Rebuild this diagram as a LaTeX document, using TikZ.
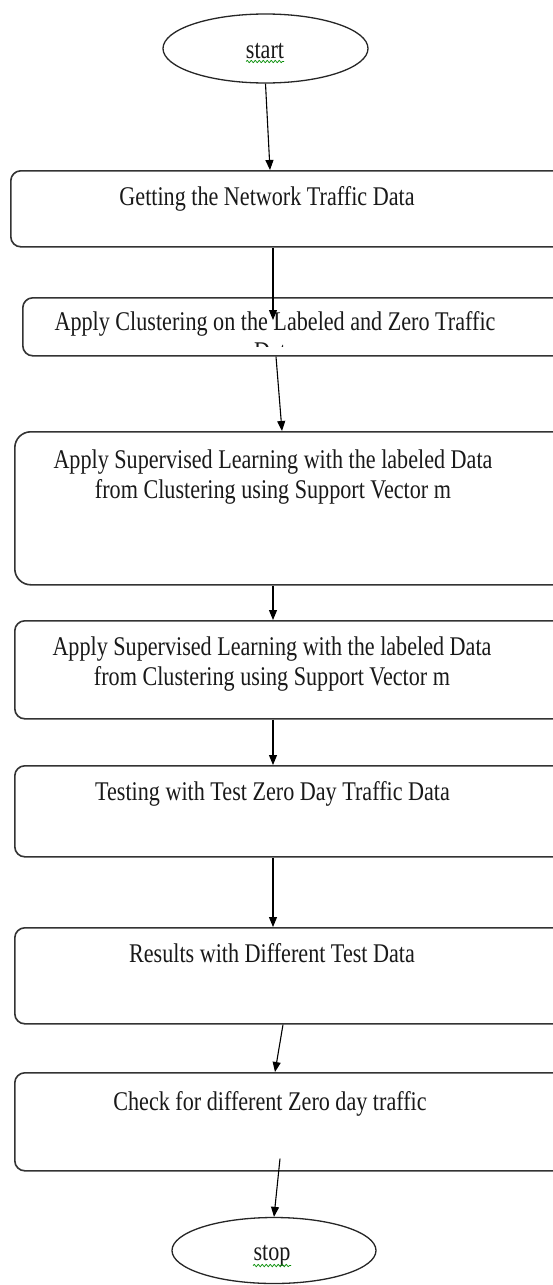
\documentclass[tikz,border=0pt]{standalone}
\usepackage{fontspec}
\setmainfont{Liberation Serif}
\newfontfamily\tf[FakeStretch=0.82]{Liberation Serif}
\usetikzlibrary{arrows.meta,calc,shapes.geometric,decorations.pathmorphing}
\begin{document}
\begin{tikzpicture}[x=1pt,y=-1pt,
  box/.style={draw=black!80,line width=1.6pt,rounded corners=10pt,minimum width=620pt,anchor=north west,inner sep=0pt},
  term/.style={draw=black!85,line width=1.3pt,ellipse,minimum width=205pt,minimum height=69pt,inner sep=0pt},
  lbl/.style={font=\tf\fontsize{27}{30}\selectfont,align=center,inner sep=0pt,anchor=base,text=black!90},
  arr/.style={-{Triangle[width=8pt,length=10pt]},line width=1.1pt},
  wavy/.style={draw=green!55!black,line width=0.7pt,decorate,decoration={snake,amplitude=1.2pt,segment length=4pt}}
]
\useasboundingbox (0,0) rectangle (553,1285);
\clip (0,0) rectangle (553,1285);
\fill[white] (0,0) rectangle (553,1285);

% terminals
\node[term] (start) at (265.5,48.5) {};
\node[lbl] (tstart) at (265,58) {start};
\draw[wavy] (246,61.5) -- (284,61.5);

\node[term,minimum height=66pt,minimum width=204pt] (stop) at (274,1250.5) {};
\node[lbl] (tstop) at (272,1260) {stop};
\draw[wavy] (253,1265.5) -- (291,1265.5);

% boxes
\node[box,minimum height=76pt] (b1) at (10,170) {};
\node[box,minimum height=58pt] (b2) at (22,297) {};
\node[box,minimum height=153pt,rounded corners=16pt] (b3) at (14,431) {};
\node[box,minimum height=98pt] (b4) at (14,620) {};
\node[box,minimum height=91pt] (b5) at (14,765) {};
\node[box,minimum height=96pt] (b6) at (14,927) {};
\node[box,minimum height=98pt] (b7) at (14,1072) {};

% texts
\node[lbl] (t1) at (267,205) {Getting the Network Traffic Data};
\begin{scope}
\clip (22,297) rectangle (553,346);
\node[lbl] (t2) at (275,360) {Apply Clustering on the Labeled and Zero Traffic\\Data};
\end{scope}
\node[lbl] (t3) at (273,498) {Apply Supervised Learning with the labeled Data\\from Clustering using Support Vector m};
\node[lbl] (t4) at (272,685) {Apply Supervised Learning with the labeled Data\\from Clustering using Support Vector m};
\node[lbl] (t5) at (272.5,800) {Testing with Test Zero Day Traffic Data};
\node[lbl] (t6) at (272,962) {Results with Different Test Data};
\node[lbl] (t7) at (270,1110) {Check for different Zero day traffic};

% connectors
\draw[arr] (start.south) -- ($(b1.north west)+(260,0)$);
\draw[arr] ($(b1.south west)+(263,0)$) -- ($(b2.north west)+(251,23)$);
\draw[arr] ($(b2.south west)+(254,0)$) -- ($(b3.north west)+(268,0)$);
\draw[arr] ($(b3.south west)+(259,0)$) -- ($(b4.north west)+(259,0)$);
\draw[arr] ($(b4.south west)+(259,0)$) -- ($(b5.north west)+(259,0)$);
\draw[arr] ($(b5.south west)+(259,0)$) -- ($(b6.north west)+(259,0)$);
\draw[arr] ($(b6.south west)+(269,0)$) -- ($(b7.north west)+(261,0)$);
\draw[arr] ($(b7.south west)+(266,-13)$) -- (stop.north);
\end{tikzpicture}
\end{document}
